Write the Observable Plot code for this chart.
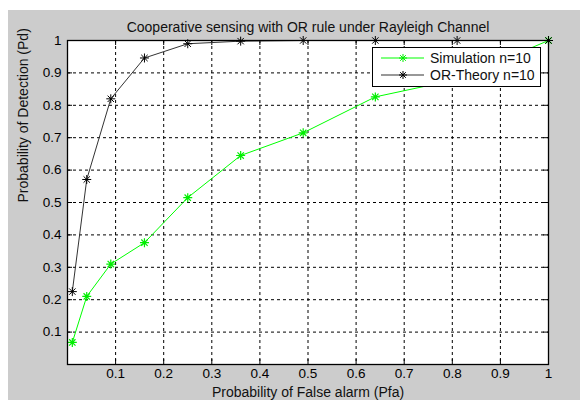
<!DOCTYPE html>
<html><head><meta charset="utf-8">
<script src="https://cdn.jsdelivr.net/npm/d3@7"></script>
<script src="https://cdn.jsdelivr.net/npm/@observablehq/plot@0.6"></script>
<style>
body{margin:0;background:#fff;font-family:"Liberation Sans",Arial,sans-serif;}
#wrap{position:absolute;left:8px;top:10px;width:572px;height:390px;background:#cccccc;}
#legend{position:absolute;left:364px;top:37px;width:167px;height:38px;background:#fff;border:1px solid #000;}
#legend svg{display:block;}
</style>
</head><body>
<div id="wrap"><div id="chart"></div><div id="legend"></div></div>
<script>
// Data
const pfa = [0.01, 0.04, 0.09, 0.16, 0.25, 0.36, 0.49, 0.64, 0.81, 1.0];
const simPd = [0.068, 0.21, 0.31, 0.376, 0.515, 0.645, 0.715, 0.826, 0.88, 1.0];
const theoryPd = [0.225, 0.571, 0.82, 0.946, 0.99, 0.998, 1.0, 1.0, 1.0, 1.0];
const seriesNames = ["Simulation n=10", "OR-Theory n=10"];
const seriesColors = ["#00ff00", "#333333"];
const markerColors = ["#00ee00", "#000000"];
const xTicks = [0.1, 0.2, 0.3, 0.4, 0.5, 0.6, 0.7, 0.8, 0.9, 1];
const yTicks = [0.1, 0.2, 0.3, 0.4, 0.5, 0.6, 0.7, 0.8, 0.9, 1];
const gridTicks = [0.1, 0.2, 0.3, 0.4, 0.5, 0.6, 0.7, 0.8, 0.9];
const titleText = "Cooperative sensing with OR rule under Rayleigh Channel";
const xLabel = "Probability of False alarm (Pfa)";
const yLabel = "Probability of Detection (Pd)";

const sim = pfa.map((x, i) => ({x, y: simPd[i]}));
const theory = pfa.map((x, i) => ({x, y: theoryPd[i]}));

const star = {
  draw(ctx, size) {
    const r = Math.sqrt(size / Math.PI), d = r * Math.SQRT1_2;
    ctx.moveTo(-r, 0); ctx.lineTo(r, 0);
    ctx.moveTo(0, -r); ctx.lineTo(0, r);
    ctx.moveTo(-d, -d); ctx.lineTo(d, d);
    ctx.moveTo(-d, d); ctx.lineTo(d, -d);
  }
};

const W = 572, H = 390, mL = 59, mR = 32, mT = 30, mB = 36;
const fW = W - mL - mR, fH = H - mT - mB;
const font = '"Liberation Sans", Arial, sans-serif';

const chart = Plot.plot({
  width: W, height: H,
  marginLeft: mL, marginRight: mR, marginTop: mT, marginBottom: mB,
  style: {background: "#cccccc", fontFamily: font, fontSize: "13.5px", color: "#000"},
  x: {domain: [0, 1]},
  y: {domain: [0, 1]},
  marks: [
    Plot.frame({fill: "white", stroke: null}),
    Plot.gridX(gridTicks, {stroke: "#000", strokeOpacity: 1, strokeDasharray: "3,3"}),
    Plot.gridY(gridTicks, {stroke: "#000", strokeOpacity: 1, strokeDasharray: "3,3"}),
    Plot.tickX(gridTicks, {x: d => d, insetTop: fH - 5, stroke: "#000"}),
    Plot.tickX(gridTicks, {x: d => d, insetBottom: fH - 5, stroke: "#000"}),
    Plot.tickY(gridTicks, {y: d => d, insetRight: fW - 5, stroke: "#000"}),
    Plot.tickY(gridTicks, {y: d => d, insetLeft: fW - 5, stroke: "#000"}),
    Plot.axisX({ticks: xTicks, tickSize: 0, tickPadding: 4, label: null, fontSize: 13.5, tickFormat: d => String(d)}),
    Plot.axisY({ticks: yTicks, tickSize: 0, tickPadding: 6, label: null, fontSize: 13.5, tickFormat: d => String(d)}),
    Plot.line(sim, {x: "x", y: "y", stroke: seriesColors[0], strokeWidth: 1}),
    Plot.line(theory, {x: "x", y: "y", stroke: seriesColors[1], strokeWidth: 1}),
    Plot.dot(sim, {x: "x", y: "y", symbol: star, r: 4.5, stroke: markerColors[0], fill: "none", strokeWidth: 1.2}),
    Plot.dot(theory, {x: "x", y: "y", symbol: star, r: 4.5, stroke: markerColors[1], fill: "none", strokeWidth: 1}),
    Plot.frame({stroke: "#000", strokeWidth: 1.3}),
    Plot.text([titleText], {text: d => d, frameAnchor: "top", lineAnchor: "middle", dy: -13, fontSize: 14, fill: "#111"}),
    Plot.text([xLabel], {text: d => d, frameAnchor: "bottom", lineAnchor: "middle", dy: 28, fontSize: 14, fill: "#111"}),
    Plot.text([yLabel], {text: d => d, frameAnchor: "left", lineAnchor: "middle", rotate: -90, dx: -44, fontSize: 14, fill: "#111"})
  ]
});
document.getElementById("chart").appendChild(chart);

// Legend
const leg = d3.select("#legend").append("svg").attr("width", 167).attr("height", 38)
  .style("font-family", font).style("font-size", "14px");
const sym = d3.symbol(star, Math.PI * 4 * 4);
seriesNames.forEach((name, i) => {
  const g = leg.append("g").attr("transform", `translate(0,${10 + i * 17})`);
  g.append("line").attr("x1", 8).attr("x2", 51).attr("stroke", seriesColors[i]).attr("stroke-width", 1.2);
  g.append("path").attr("d", sym()).attr("transform", "translate(30,0)").attr("stroke", markerColors[i]).attr("fill", "none");
  g.append("text").attr("x", 57).attr("dy", "0.35em").attr("fill", "#111").text(name);
});
</script>
</body></html>
